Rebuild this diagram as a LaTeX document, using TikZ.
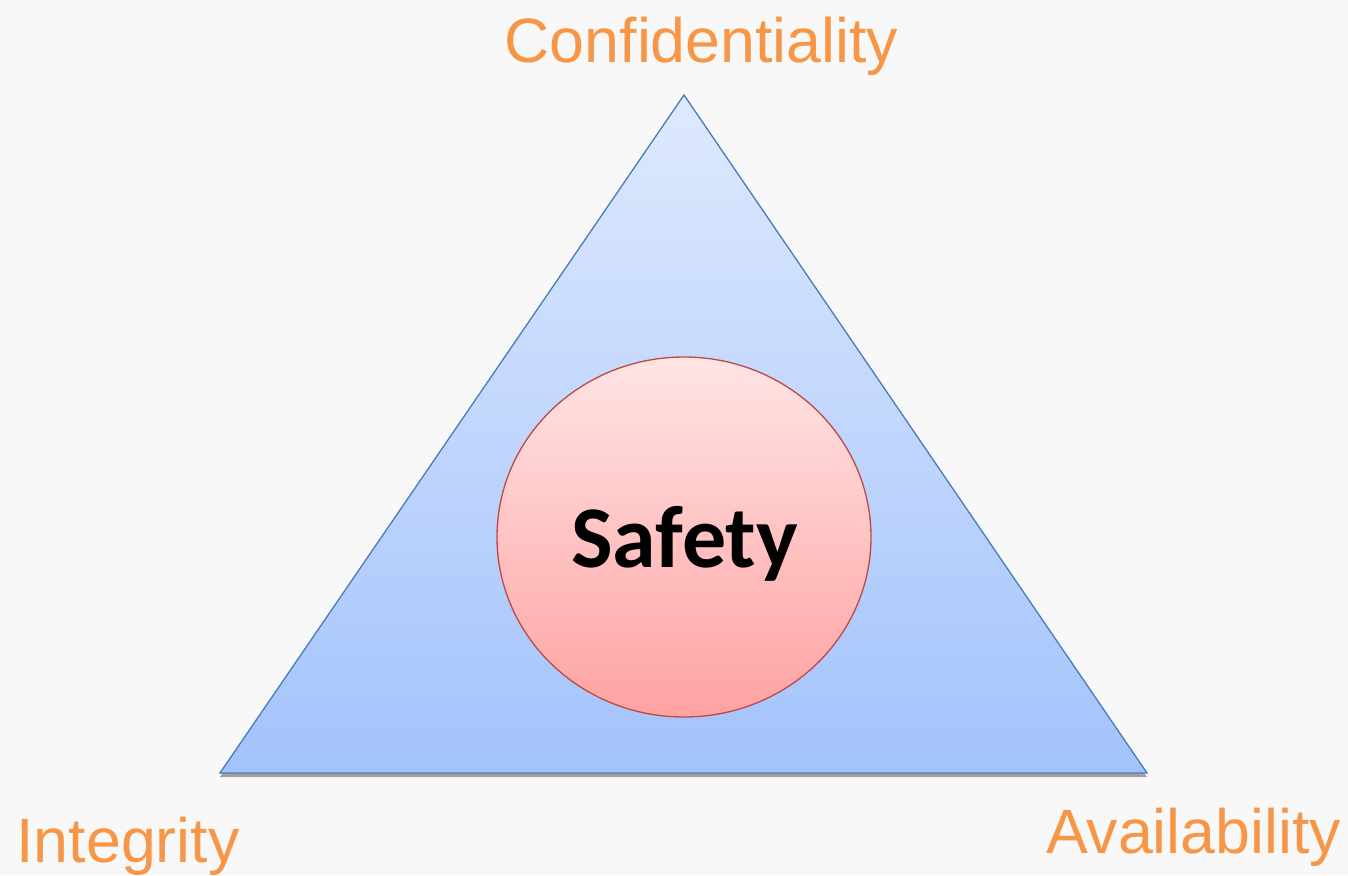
\documentclass[tikz,border=0pt]{standalone}
\usepackage{fontspec}
\setmainfont{Liberation Sans}
\newfontfamily\carlito{Carlito}
\usetikzlibrary{shadows}

\definecolor{pagegray}{RGB}{248,248,248}
\definecolor{ciaorange}{RGB}{247,150,70}
\definecolor{triline}{RGB}{74,126,187}
\definecolor{tritop}{RGB}{222,233,253}
\definecolor{tribottom}{RGB}{163,195,252}
\definecolor{ringline}{RGB}{190,75,72}
\definecolor{ringtop}{RGB}{255,228,228}
\definecolor{ringbottom}{RGB}{255,162,162}

\tikzset{
  corner/.style={anchor=base,inner sep=0.75pt,text=ciaorange,
    font=\fontsize{47}{56}\selectfont},
}

\begin{document}
\begin{tikzpicture}[x=0.75pt,y=0.75pt,yscale=-1,xscale=1]
    \fill[pagegray] (0,0) rectangle (1348,875);
    \useasboundingbox (0,0) rectangle (1348,875);
    %Shape: Triangle [id:tri]
    \coordinate (apex) at (684,95);
    \coordinate (left) at (220,773);
    \coordinate (right) at (1147,773);
    \draw[triline,line width=1pt,top color=tritop,bottom color=tribottom,
      drop shadow={shadow xshift=0pt,shadow yshift=-3pt,opacity=0.35,fill=black}]
      (apex) -- (right) -- (left) -- cycle;
    %Shape: Ellipse [id:safe]
    \draw[ringline,line width=1pt,top color=ringtop,bottom color=ringbottom]
      (684,537) ellipse (187 and 180);

    % Text Node
    \node[anchor=base,inner sep=0.75pt,font=\carlito\bfseries\fontsize{66}{72}\selectfont]
      (safety) at (684.5,567) {Safety};
    % Text Node
    \node[corner] (conf) at (701.5,62) {Confidentiality};
    % Text Node
    \node[corner] (integ) at (128,862) {Integrity};
    % Text Node
    \node[corner] (avail) at (1193.5,853) {Availability};
\end{tikzpicture}
\end{document}
